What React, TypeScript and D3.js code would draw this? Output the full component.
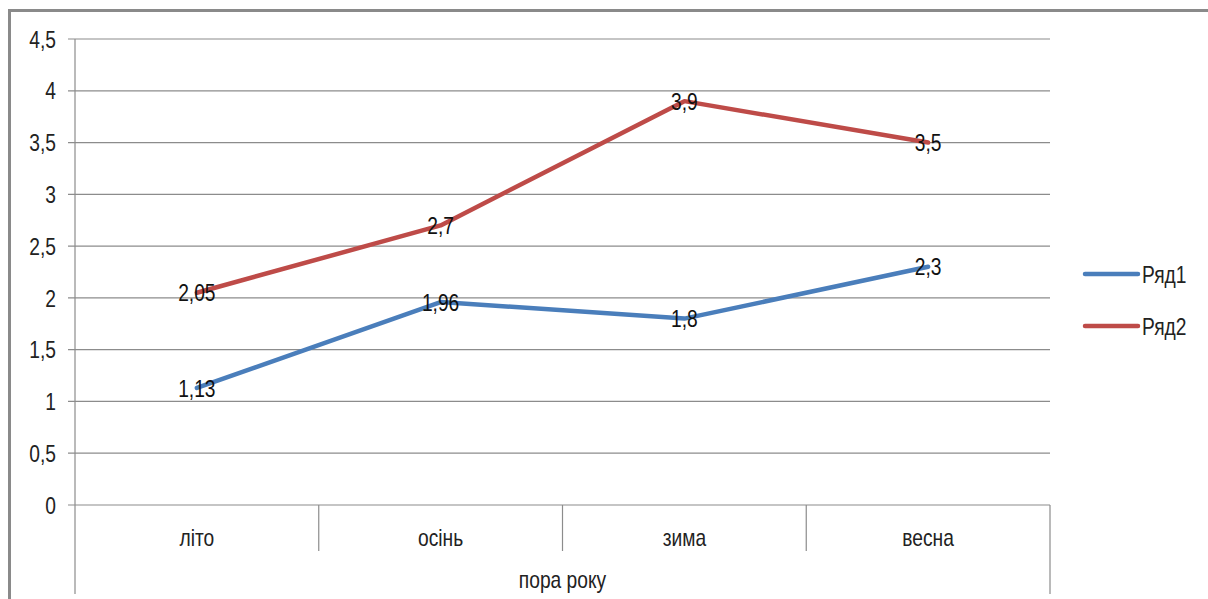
import React from "react";
import * as d3 from "d3";

// Seasons on the x axis and the two series plotted against them
const categories = ["літо", "осінь", "зима", "весна"];
const series1 = [1.13, 1.96, 1.8, 2.3];
const series2 = [2.05, 2.7, 3.9, 3.5];
const seriesNames = ["Ряд1", "Ряд2"];
const yTicks = [0, 0.5, 1, 1.5, 2, 2.5, 3, 3.5, 4, 4.5];
const axisTitle = "пора року";

const W = 1208;
const H = 599;
const FONT = "'Liberation Sans', Arial, sans-serif";
const GRID = "#8c8c8c";
const COLORS = ["#4a7ebb", "#be4b48"];
const FONT_SIZE = 24;
const NARROW = 0.8; // horizontal squeeze for a condensed look

const fmt = (v: number) => String(v).replace(".", ",");

type LabelProps = {
  x: number;
  y: number;
  anchor?: "start" | "middle" | "end";
  fill?: string;
  children: React.ReactNode;
};

// Text drawn with a horizontally condensed face
function Label({ x, y, anchor = "middle", fill = "#222", children }: LabelProps) {
  return (
    <g transform={`translate(${x},${y}) scale(${NARROW},1)`}>
      <text
        x={0}
        y={0}
        dy="0.36em"
        textAnchor={anchor}
        fontFamily={FONT}
        fontSize={FONT_SIZE}
        fill={fill}
      >
        {children}
      </text>
    </g>
  );
}

export default function App() {
  const left = 75;
  const right = 1050;
  const top = 39;
  const bottom = 505;

  const x = d3.scaleBand<string>().domain(categories).range([left, right]).padding(0);
  const y = d3.scaleLinear().domain([0, 4.5]).range([bottom, top]);
  const cx = (c: string) => (x(c) as number) + x.bandwidth() / 2;

  const line = d3
    .line<number>()
    .x((_, i) => cx(categories[i]))
    .y((d) => y(d));

  const data = [series1, series2];

  return (
    <svg width={W} height={H} style={{ position: "absolute", left: 0, top: 0, display: "block" }}>
      <rect x={0} y={0} width={W} height={H} fill="#fff" />
      {/* chart frame */}
      <path d={`M9.5,${H} V10.5 H${W}`} fill="none" stroke="#8a8a8a" strokeWidth={3} />

      {/* horizontal gridlines and y ticks */}
      {yTicks.map((t) => (
        <g key={t}>
          <line x1={left - 7} x2={right} y1={y(t)} y2={y(t)} stroke={GRID} strokeWidth={1.2} />
          <Label x={56} y={y(t)} anchor="end">
            {fmt(t)}
          </Label>
        </g>
      ))}

      {/* y axis line and right edge of the category axis */}
      <line x1={left} x2={left} y1={top} y2={594} stroke={GRID} strokeWidth={1.2} />
      <line x1={right} x2={right} y1={bottom} y2={594} stroke={GRID} strokeWidth={1.2} />

      {/* category dividers */}
      {categories.slice(1).map((c) => (
        <line
          key={c}
          x1={x(c) as number}
          x2={x(c) as number}
          y1={bottom}
          y2={551}
          stroke={GRID}
          strokeWidth={1.2}
        />
      ))}

      {/* category labels */}
      {categories.map((c) => (
        <Label key={c} x={cx(c)} y={537}>
          {c}
        </Label>
      ))}
      <Label x={(left + right) / 2} y={579}>
        {axisTitle}
      </Label>

      {/* series lines */}
      {data.map((s, i) => (
        <path
          key={i}
          d={line(s) as string}
          fill="none"
          stroke={COLORS[i]}
          strokeWidth={4.5}
          strokeLinejoin="round"
          strokeLinecap="round"
        />
      ))}

      {/* value labels centred on points */}
      {data.map((s, i) =>
        s.map((v, j) => (
          <Label key={`${i}-${j}`} x={cx(categories[j])} y={y(v)} fill="#111">
            {fmt(v)}
          </Label>
        ))
      )}

      {/* legend */}
      {seriesNames.map((n, i) => (
        <g key={n}>
          <line
            x1={1085}
            x2={1138}
            y1={274 + i * 52}
            y2={274 + i * 52}
            stroke={COLORS[i]}
            strokeWidth={4.5}
            strokeLinecap="round"
          />
          <Label x={1142} y={274 + i * 52} anchor="start">
            {n}
          </Label>
        </g>
      ))}
    </svg>
  );
}
